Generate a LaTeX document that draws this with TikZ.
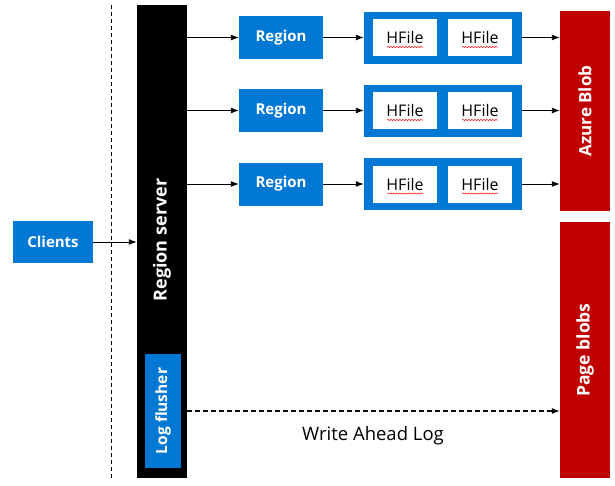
\documentclass[tikz,border=0pt]{standalone}
\usepackage{fontspec}
\setmainfont{Open Sans}
\usetikzlibrary{arrows.meta,decorations.pathmorphing}
\definecolor{msblue}{RGB}{0,120,212}
\definecolor{msred}{RGB}{192,0,0}
\tikzset{
  bluebox/.style={fill=msblue, draw=none, minimum width=84pt, minimum height=43pt, text=white, font=\fontsize{15}{17}\selectfont\bfseries},
  outerbox/.style={fill=msblue, draw=none, minimum width=158pt, minimum height=52pt},
  hfilebox/.style={fill=white, draw=none, minimum width=64pt, minimum height=37pt, font=\fontsize{16}{18}\selectfont},
  redbox/.style={fill=msred, draw=none, minimum width=50pt},
  vlabel/.style={rotate=90, text=white, font=\fontsize{17}{19}\selectfont\bfseries},
  arr/.style={-{Latex[length=8pt,width=6pt]}, line width=0.9pt},
  squig/.style={draw=red, line width=0.5pt, decorate, decoration={snake, amplitude=0.6pt, segment length=3pt}},
}
\begin{document}
\begin{tikzpicture}[x=1pt,y=-1pt]
\useasboundingbox (0,0) rectangle (615,485);
% dashed vertical line
\coordinate (dtop) at (111,5);
\coordinate (dbot) at (111,478);
\draw[dashed, line width=0.8pt, dash pattern=on 4pt off 3pt] (dtop) -- (dbot);
% region server bar
\node[fill=black, minimum width=50pt, minimum height=473pt] (bar) at (162,241.5) {};
\node[vlabel, font=\fontsize{18}{20}\selectfont\bfseries] (rslabel) at (162,240) {Region server};
% clients
\node[bluebox, minimum width=80pt, minimum height=42pt] (clients) at (53,242) {Clients};
\draw[arr] (clients.east) -- (bar.west |- clients.east);
% log flusher
\node[fill=msblue, minimum width=36pt, minimum height=114pt] (log) at (163,411) {};
\node[vlabel, font=\fontsize{15.5}{17}\selectfont\bfseries] (loglabel) at (163,411) {Log flusher};
% red storage
\node[redbox, minimum height=200pt] (azure) at (585,111) {};
\node[vlabel] (azlabel) at (585,111) {Azure Blob};
\node[redbox, minimum height=256pt] (page) at (585,350) {};
\node[vlabel, font=\fontsize{17.5}{19}\selectfont\bfseries] (pglabel) at (585,350) {Page blobs};
% rows
\foreach \i/\y in {1/37.5,2/110.5,3/184}{
  \node[bluebox] (r\i) at (281,\y) {Region};
  \node[outerbox] (o\i) at (443,\y) {};
  \node[hfilebox] (ha\i) at (405,\y) {HFile};
  \node[hfilebox] (hb\i) at (480,\y) {HFile};
  \draw[squig] ([xshift=-18pt,yshift=-9.5pt]ha\i.center) -- ([xshift=18pt,yshift=-9.5pt]ha\i.center);
  \draw[squig] ([xshift=-18pt,yshift=-9.5pt]hb\i.center) -- ([xshift=18pt,yshift=-9.5pt]hb\i.center);
  \draw[arr] (bar.east |- r\i.west) -- (r\i.west);
  \draw[arr] (r\i.east) -- (o\i.west);
  \draw[arr] (o\i.east) -- (azure.west |- o\i.east);
}
% write ahead log
\draw[arr, line width=1.2pt, dash pattern=on 5pt off 3pt] (bar.east |- log.east) -- (page.west |- log.east);
\node[font=\fontsize{18.5}{20}\selectfont] (wal) at (373,436) {Write Ahead Log};
\end{tikzpicture}
\end{document}
